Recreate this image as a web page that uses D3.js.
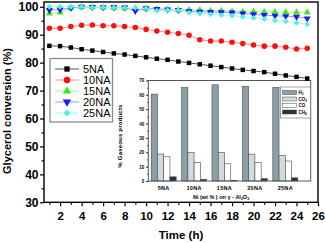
<!DOCTYPE html>
<meta charset="utf-8">
<style>
body { margin: 0; background: #fff; }
svg { display: block; font-family: "Liberation Sans", Arial, sans-serif; }
.bold { font-weight: bold; }
</style>
<svg width="326" height="243"></svg>
<script src="https://cdn.jsdelivr.net/npm/d3@7/dist/d3.min.js"></script>
<script>

// main chart data: glycerol conversion vs time
var hours = [1, 2, 3, 4, 5, 6, 7, 8, 9, 10, 11, 12, 13, 14, 15, 16, 17, 18, 19, 20, 21, 22, 23, 24, 25]
var conv5NA = [86.0, 85.9, 85.4, 84.8, 84.3, 83.8, 83.3, 82.9, 82.4, 81.9, 81.4, 81.0, 80.4, 79.9, 79.4, 78.9, 78.4, 77.9, 77.4, 77.0, 76.6, 76.0, 75.4, 74.9, 74.3]
var conv10NA = [92.3, 92.3, 92.9, 93.4, 93.5, 93.2, 93.2, 92.9, 92.6, 91.9, 91.3, 90.9, 90.4, 89.8, 88.2, 87.7, 87.7, 87.3, 86.8, 86.3, 85.9, 85.9, 85.5, 84.9, 85.1]
var conv15NA = [97.6, 98.0, 99.5, 99.9, 99.8, 99.7, 99.6, 99.5, 99.4, 99.3, 99.1, 99.0, 98.8, 98.8, 98.8, 98.5, 98.5, 98.3, 98.2, 98.2, 98.1, 98.1, 98.0, 98.0, 98.0]
var conv20NA = [98.8, 99.0, 99.6, 100.0, 99.9, 99.8, 99.8, 99.7, 98.5, 99.4, 99.2, 99.0, 98.8, 98.4, 98.2, 98.1, 98.0, 97.9, 97.6, 97.3, 97.0, 96.8, 96.6, 96.4, 95.8]
var conv25NA = [100.0, 100.0, 100.0, 100.0, 99.8, 99.8, 99.7, 99.6, 99.6, 99.4, 98.6, 98.8, 98.8, 97.9, 97.6, 97.3, 97.0, 96.8, 96.4, 96.0, 95.6, 95.1, 94.8, 94.2, 93.7]
var seriesNames = ["5NA", "10NA", "15NA", "20NA", "25NA"]
var timeTicks = [2, 4, 6, 8, 10, 12, 14, 16, 18, 20, 22, 24, 26]
var timeMinor = [1, 3, 5, 7, 9, 11, 13, 15, 17, 19, 21, 23, 25]
var convTicks = [30, 40, 50, 60, 70, 80, 90, 100]
var convMinor = [35, 45, 55, 65, 75, 85, 95]

// inset data: gaseous products
var catalysts = ["5NA", "10NA", "15NA", "20NA", "25NA"]
var gases = ["H2", "CO2", "CO", "CH4"]
var gasH2 = [60.5, 65.0, 67.0, 66.0, 65.2]
var gasCO2 = [18.8, 20.0, 19.8, 18.7, 17.8]
var gasCO = [16.9, 12.8, 12.0, 12.8, 13.9]
var gasCH4 = [2.9, 1.2, 0.5, 1.6, 2.2]
var gasTicks = [0, 10, 20, 30, 40, 50, 60, 70]
var gasMinor = [5, 15, 25, 35, 45, 55, 65]

var svg = d3.select("svg")
svg.append("rect").attr("width", 326).attr("height", 243).attr("fill", "#fff")

var x = d3.scaleLinear().domain([0.5, 26]).range([44, 318])
var y = d3.scaleLinear().domain([30, 101.7]).range([202.3, 2])

// axes
var gx = svg.append("g").attr("transform", "translate(0," + y(30) + ")")
  .call(d3.axisBottom(x).tickValues(timeTicks).tickSize(4).tickFormat(d3.format("d")))
gx.select(".domain").remove()
gx.selectAll("text").attr("class", "bold").attr("font-size", 11.5).attr("y", 17.5).attr("dy", 0)
gx.selectAll("line").attr("stroke-width", 1.2)
svg.append("g").attr("transform", "translate(0," + y(30) + ")")
  .call(d3.axisBottom(x).tickValues(timeMinor).tickSize(2.5).tickFormat(""))
  .call(function(g) { g.select(".domain").remove(); g.selectAll("line").attr("stroke-width", 1.2) })

var gy = svg.append("g").attr("transform", "translate(" + x(0.5) + ",0)")
  .call(d3.axisLeft(y).tickValues(convTicks).tickSize(4).tickPadding(1.5))
gy.select(".domain").remove()
gy.selectAll("text").attr("class", "bold").attr("font-size", 12)
gy.selectAll("line").attr("stroke-width", 1.2)
svg.append("g").attr("transform", "translate(" + x(0.5) + ",0)")
  .call(d3.axisLeft(y).tickValues(convMinor).tickSize(2.5).tickFormat(""))
  .call(function(g) { g.select(".domain").remove(); g.selectAll("line").attr("stroke-width", 1.2) })

svg.append("rect")
  .attr("x", x(0.5)).attr("y", y(101.7))
  .attr("width", x(26) - x(0.5)).attr("height", y(30) - y(101.7))
  .attr("fill", "none").attr("stroke", "#000").attr("stroke-width", 1.4)

svg.append("text").attr("class", "bold")
  .attr("x", (x(0.5) + x(26)) / 2).attr("y", 239)
  .attr("text-anchor", "middle").attr("font-size", 11.5)
  .text("Time (h)")
svg.append("text").attr("class", "bold")
  .attr("transform", "translate(11,111) rotate(-90)")
  .attr("text-anchor", "middle").attr("font-size", 11)
  .text("Glycerol conversion (%)")

// inset
var ix = d3.scaleBand().domain(catalysts).range([148.5, 300.5])
var ib = d3.scaleBand().domain(gases).range([0, 25])
var iy = d3.scaleLinear().domain([0, 70]).range([181, 80.5])
var gasColor = { H2: "#8c9fa6", CO2: "#cfdbdc", CO: "#ffffff", CH4: "#1f3443" }
var gasValues = { H2: gasH2, CO2: gasCO2, CO: gasCO, CH4: gasCH4 }

var inset = svg.append("g")
inset.append("rect")
  .attr("x", 148.3).attr("y", iy(70))
  .attr("width", 310.7 - 148.3).attr("height", iy(0) - iy(70))
  .attr("fill", "#fff")

catalysts.forEach(function(c, i) {
  gases.forEach(function(g) {
    var v = gasValues[g][i]
    inset.append("rect")
      .attr("x", ix(c) + (ix.bandwidth() - 25) / 2 + ib(g))
      .attr("y", iy(v))
      .attr("width", ib.bandwidth())
      .attr("height", iy(0) - iy(v))
      .attr("fill", gasColor[g]).attr("stroke", "#4a4a4a").attr("stroke-width", 0.6)
  })
})

var iga = inset.append("g").attr("transform", "translate(148.3,0)")
  .call(d3.axisLeft(iy).tickValues(gasTicks).tickSize(2).tickPadding(2))
iga.select(".domain").remove()
iga.selectAll("text").attr("class", "bold").attr("font-size", 4.5)
inset.append("g").attr("transform", "translate(148.3,0)")
  .call(d3.axisLeft(iy).tickValues(gasMinor).tickSize(1).tickFormat(""))
  .call(function(g) { g.select(".domain").remove() })

inset.append("rect")
  .attr("x", 148.3).attr("y", iy(70))
  .attr("width", 310.7 - 148.3).attr("height", iy(0) - iy(70))
  .attr("fill", "none").attr("stroke", "#555").attr("stroke-width", 1)

inset.selectAll(".cat").data(catalysts).enter().append("text")
  .attr("class", "bold")
  .attr("x", function(d) { return ix(d) + ix.bandwidth() / 2 })
  .attr("y", 190).attr("text-anchor", "middle").attr("font-size", 5.5)
  .attr("letter-spacing", 0.3)
  .text(function(d) { return d })

var xl = inset.append("text").attr("class", "bold")
  .attr("x", 221).attr("y", 198.5).attr("text-anchor", "middle").attr("font-size", 5.5)
xl.append("tspan").text("Ni (wt % )  on \u03b3 - Al")
xl.append("tspan").attr("font-size", 3.5).attr("dy", 1.2).text("2")
xl.append("tspan").attr("dy", -1.2).text("O")
xl.append("tspan").attr("font-size", 3.5).attr("dy", 1.2).text("3")

inset.append("text").attr("class", "bold")
  .attr("transform", "translate(122,136) rotate(-90)")
  .attr("text-anchor", "middle").attr("font-size", 6)
  .attr("letter-spacing", 0.2)
  .text("% Gaseous products")

// inset legend
inset.append("rect").attr("x", 280.5).attr("y", 87).attr("width", 30).attr("height", 31)
  .attr("fill", "#fff").attr("stroke", "#666").attr("stroke-width", 0.6)
var gasLabel = { H2: ["H", "2"], CO2: ["CO", "2"], CO: ["CO", ""], CH4: ["CH", "4"] }
gases.forEach(function(g, i) {
  var ry = 92.5 + i * 6.5
  inset.append("rect").attr("x", 282.5).attr("y", ry - 2).attr("width", 14).attr("height", 4)
    .attr("fill", gasColor[g]).attr("stroke", "#4a4a4a").attr("stroke-width", 0.5)
  var t = inset.append("text").attr("class", "bold").attr("x", 298.5).attr("y", ry + 1.6)
    .attr("font-size", 4.5)
  t.append("tspan").text(gasLabel[g][0])
  if (gasLabel[g][1]) t.append("tspan").attr("font-size", 3).attr("dy", 1).text(gasLabel[g][1])
})

// conversion series
var series = [
  { name: "5NA", values: conv5NA, line: "#555", fill: "#000", sym: d3.symbolSquare, size: 20, rot: 0 },
  { name: "10NA", values: conv10NA, line: "#ff8c8c", fill: "#ff1010", sym: d3.symbolCircle, size: 24, rot: 0 },
  { name: "15NA", values: conv15NA, line: "#9cff8c", fill: "#3ce81c", sym: d3.symbolTriangle, size: 22, rot: 0 },
  { name: "20NA", values: conv20NA, line: "#9a9aff", fill: "#1a1aff", sym: d3.symbolTriangle, size: 22, rot: 180 },
  { name: "25NA", values: conv25NA, line: "#a8fff4", fill: "#4df2e0", sym: d3.symbolSquare, size: 17, rot: 45 }
]

var line = d3.line().x(function(d, i) { return x(hours[i]) }).y(function(d) { return y(d) })

series.forEach(function(s) {
  var g = svg.append("g")
  g.append("path").datum(s.values).attr("d", line)
    .attr("fill", "none").attr("stroke", s.line).attr("stroke-width", 1)
  g.selectAll("path.m").data(s.values).enter().append("path").attr("class", "m")
    .attr("d", d3.symbol().type(s.sym).size(s.size))
    .attr("transform", function(d, i) { return "translate(" + x(hours[i]) + "," + y(d) + ") rotate(" + s.rot + ")" })
    .attr("fill", s.fill)
})

// legend
svg.append("rect").attr("x", 50).attr("y", 58.5).attr("width", 62.5).attr("height", 63.5)
  .attr("fill", "#fff").attr("stroke", "#8a8a8a").attr("stroke-width", 1.3)
series.forEach(function(s, i) {
  var ly = 69 + i * 11
  svg.append("line").attr("x1", 55).attr("x2", 79).attr("y1", ly).attr("y2", ly)
    .attr("stroke", s.line).attr("stroke-width", 1)
  svg.append("path").attr("d", d3.symbol().type(s.sym).size(s.size * 1.4)())
    .attr("transform", "translate(67," + ly + ") rotate(" + s.rot + ")")
    .attr("fill", s.fill)
  svg.append("text").attr("x", 83).attr("y", ly + 4).attr("font-size", 11)
    .text(s.name)
})

</script>
